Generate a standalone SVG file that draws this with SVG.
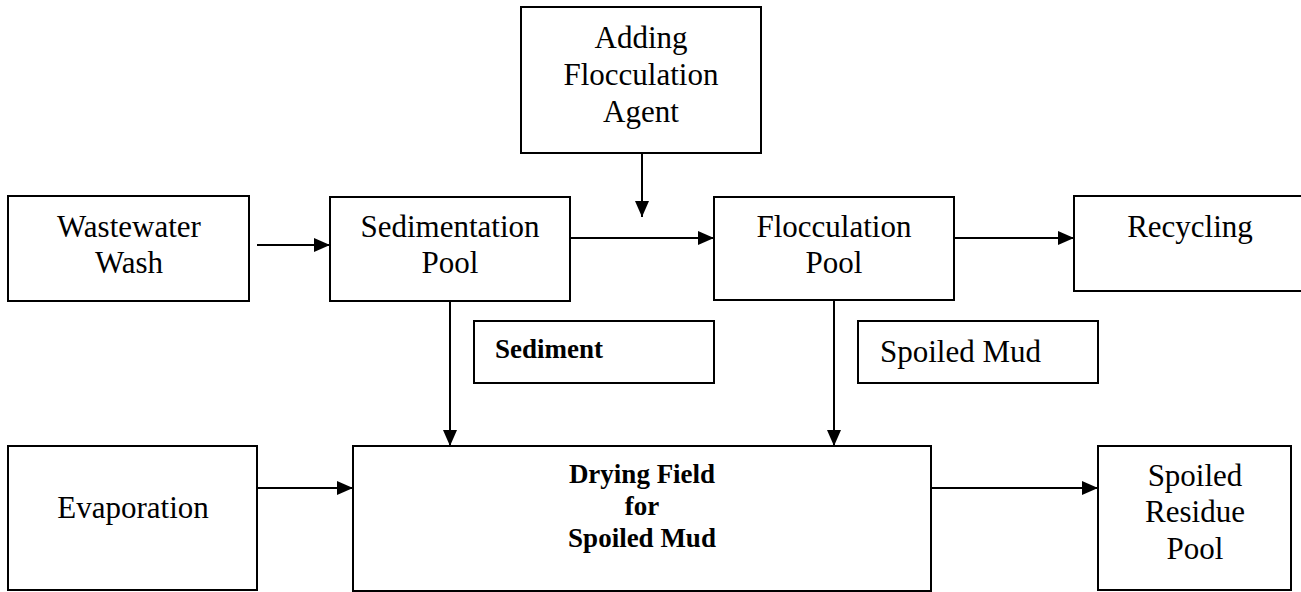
<svg xmlns="http://www.w3.org/2000/svg" width="1301" height="592" viewBox="0 0 1301 592">
<style>
.box{fill:#fff;stroke:#000;stroke-width:2}
.t{font-family:"Liberation Serif","Times New Roman",serif;font-size:31px;fill:#000;text-anchor:middle}
.b{font-family:"Liberation Serif","Times New Roman",serif;font-size:27px;font-weight:bold;fill:#000}
.c{stroke:#000;stroke-width:2;fill:none;marker-end:url(#ah)}
</style>
<defs>
<marker id="ah" markerWidth="16" markerHeight="14" refX="16" refY="7" orient="auto" markerUnits="userSpaceOnUse">
<path d="M0,0 L16,7 L0,14 Z" fill="#000"/>
</marker>
</defs>
<rect width="1301" height="592" fill="#fff"/>
<g id="connectors">
<line class="c" x1="257" y1="245" x2="330" y2="245"/>
<line class="c" x1="642" y1="153" x2="642" y2="217"/>
<line class="c" x1="570" y1="238" x2="714" y2="238"/>
<line class="c" x1="954" y1="238" x2="1074" y2="238"/>
<line class="c" x1="450" y1="301" x2="450" y2="446"/>
<line class="c" x1="834" y1="300" x2="834" y2="446"/>
<line class="c" x1="257" y1="488" x2="353" y2="488"/>
<line class="c" x1="931" y1="488" x2="1098" y2="488"/>
</g>
<g id="wastewater">
<rect class="box" x="8" y="196" width="241" height="105"/>
<text class="t" x="129" y="237">Wastewater</text>
<text class="t" x="129" y="273">Wash</text>
</g>
<g id="sedimentation">
<rect class="box" x="330" y="197" width="240" height="104"/>
<text class="t" x="450" y="237">Sedimentation</text>
<text class="t" x="450" y="273">Pool</text>
</g>
<g id="adding">
<rect class="box" x="521" y="7" width="240" height="146"/>
<text class="t" x="641" y="48">Adding</text>
<text class="t" x="641" y="85">Flocculation</text>
<text class="t" x="641" y="122">Agent</text>
</g>
<g id="flocculation">
<rect class="box" x="714" y="197" width="240" height="103"/>
<text class="t" x="834" y="237">Flocculation</text>
<text class="t" x="834" y="273">Pool</text>
</g>
<g id="recycling">
<rect class="box" x="1074" y="196" width="240" height="95"/>
<text class="t" x="1190" y="237">Recycling</text>
</g>
<g id="sediment">
<rect class="box" x="474" y="321" width="240" height="62"/>
<text class="b" x="495" y="358">Sediment</text>
</g>
<g id="spoiledmud">
<rect class="box" x="858" y="321" width="240" height="62"/>
<text class="t" x="880" y="362" style="text-anchor:start">Spoiled Mud</text>
</g>
<g id="evaporation">
<rect class="box" x="8" y="446" width="249" height="144"/>
<text class="t" x="133" y="518">Evaporation</text>
</g>
<g id="drying">
<rect class="box" x="353" y="446" width="578" height="145"/>
<text class="b" x="642" y="483" text-anchor="middle">Drying Field</text>
<text class="b" x="642" y="515" text-anchor="middle">for</text>
<text class="b" x="642" y="547" text-anchor="middle">Spoiled Mud</text>
</g>
<g id="residue">
<rect class="box" x="1098" y="446" width="193" height="144"/>
<text class="t" x="1195" y="486">Spoiled</text>
<text class="t" x="1195" y="522">Residue</text>
<text class="t" x="1195" y="559">Pool</text>
</g>
</svg>
